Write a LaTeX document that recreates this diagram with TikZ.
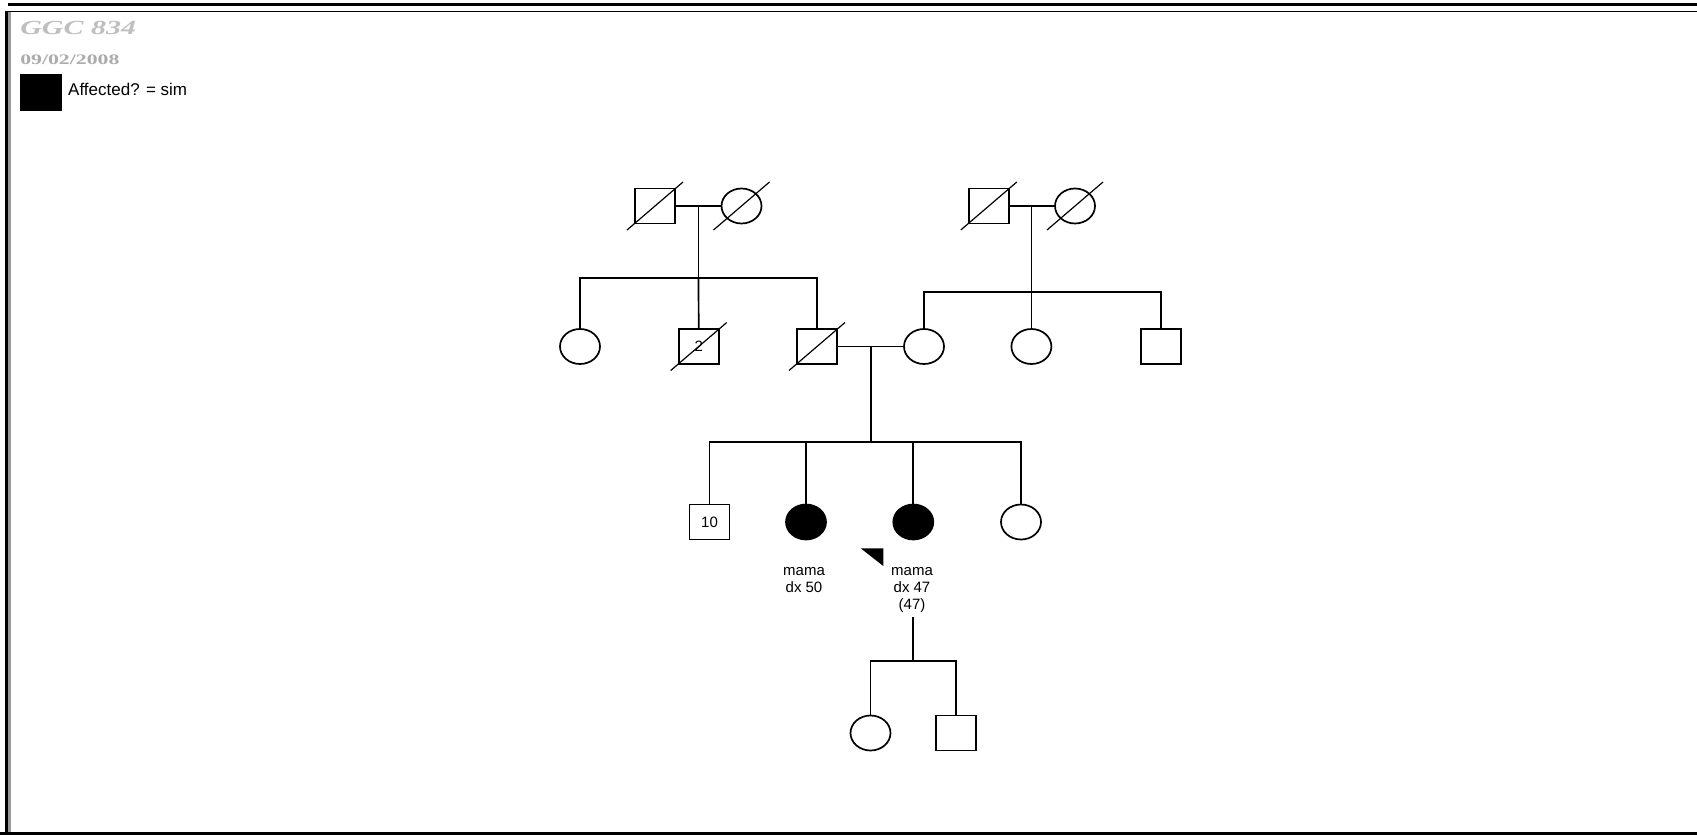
\documentclass[tikz,border=0pt]{standalone}
\usepackage{fontspec}
\setmainfont{Liberation Sans}
\newfontfamily\serifb{Liberation Serif}
\usetikzlibrary{shapes.geometric}
\begin{document}
\begin{tikzpicture}[x=1pt,y=-1pt,
  lw/.style={line width=1.7pt},
  slashline/.style={line width=1.2pt},
  sq/.style={draw, lw, rectangle, minimum width=40pt, minimum height=35pt, inner sep=0pt, font=\fontsize{15}{15}\selectfont},
  ci/.style={draw, lw, ellipse, minimum width=40pt, minimum height=35pt, inner sep=0pt},
  aff/.style={fill=black},
  lbl/.style={anchor=base, inner sep=0pt, font=\fontsize{15}{15}\selectfont}]
\useasboundingbox (0,0) rectangle (1697,835);
\fill[white] (0,0) rectangle (1697,835);
% frame
\fill[black] (8,3) rectangle (1697,5.7);
\fill[black] (5,10.5) rectangle (1697,12);
\fill[black] (4.5,10.5) rectangle (7.5,835);
\fill[black!40] (7.5,12) rectangle (10.5,835);
\fill[black] (0,831.5) rectangle (1697,835);
% header
\node[anchor=base west, inner sep=0pt, text=black!25, xscale=1.5, transform shape,
  font=\serifb\bfseries\itshape\fontsize{20}{20}\selectfont] (title) at (20,34.5) {GGC 834};
\node[anchor=base west, inner sep=0pt, text=black!33, xscale=1.5, transform shape,
  font=\serifb\bfseries\fontsize{14.5}{14.5}\selectfont] (date) at (20,64) {09/02/2008};
\node[sq, aff, anchor=north west, minimum width=41pt] (leg) at (19.5,74) {};
\node[anchor=base west, inner sep=0pt, font=\fontsize{17}{17}\selectfont] (legt) at (68,95) {Affected? = sim};
% generation I
\node[sq] (gf1) at (655,206) {};
\node[ci] (gm1) at (741.5,206) {};
\node[sq] (gf2) at (988.8,206) {};
\node[ci] (gm2) at (1075,206) {};
% generation II
\node[ci] (a1) at (580,346.5) {};
\node[sq] (a2) at (698.7,346.5) {2};
\node[sq] (fa) at (817,346.5) {};
\node[ci] (mo) at (924,346.5) {};
\node[ci] (b2) at (1031.4,346.5) {};
\node[sq] (b3) at (1161,346.5) {};
% generation III
\node[sq] (c1) at (709.5,522) {10};
\node[ci, aff] (c2) at (806,522) {};
\node[ci, aff] (c3) at (913.3,522) {};
\node[ci] (c4) at (1021,522) {};
\node[lbl] (l2a) at (804,575.7) {mama};
\node[lbl] (l2b) at (804,592.7) {dx 50};
\node[lbl] (l3a) at (912,575.7) {mama};
\node[lbl] (l3b) at (912,592.7) {dx 47};
\node[lbl] (l3c) at (912,609.7) {(47)};
\fill[black] (860.7,548.3) -- (883.3,548.3) -- (883.3,566) -- cycle;
% generation IV
\node[ci] (d1) at (870.5,733) {};
\node[sq] (d2) at (956.3,733) {};
% connectors
\coordinate (m1) at (698.5,206);
\coordinate (s1) at (698.5,278);
\draw[lw] (gf1) -- (gm1);
\draw[lw] (m1) -- (s1);
\draw[lw] (a1.north) |- (s1) -| (fa.north);
\draw[lw] (s1) -- (a2.north);
\coordinate (m2) at (1031.4,206);
\coordinate (s2) at (1031.4,292);
\draw[lw] (gf2) -- (gm2);
\draw[lw] (m2) -- (s2);
\draw[lw] (mo.north) |- (s2) -| (b3.north);
\draw[lw] (s2) -- (b2.north);
\coordinate (m3) at (870.7,346.5);
\coordinate (s3) at (870.7,441.7);
\draw[lw] (fa) -- (mo);
\draw[lw] (m3) -- (s3);
\draw[lw] (c1.north) |- (s3) -| (c4.north);
\draw[lw] (c2.north |- s3) -- (c2.north);
\draw[lw] (c3.north |- s3) -- (c3.north);
\coordinate (p1) at (913.3,617.3);
\coordinate (s4) at (913.3,660.7);
\draw[lw] (p1) -- (s4);
\draw[lw] (d1.north) |- (s4) -| (d2.north);
% deceased marks
\foreach \n in {gf1,gm1,gf2,gm2,a2,fa}
  \draw[slashline] ([shift={(-28,24)}]\n.center) -- ([shift={(28,-24)}]\n.center);
\end{tikzpicture}
\end{document}
